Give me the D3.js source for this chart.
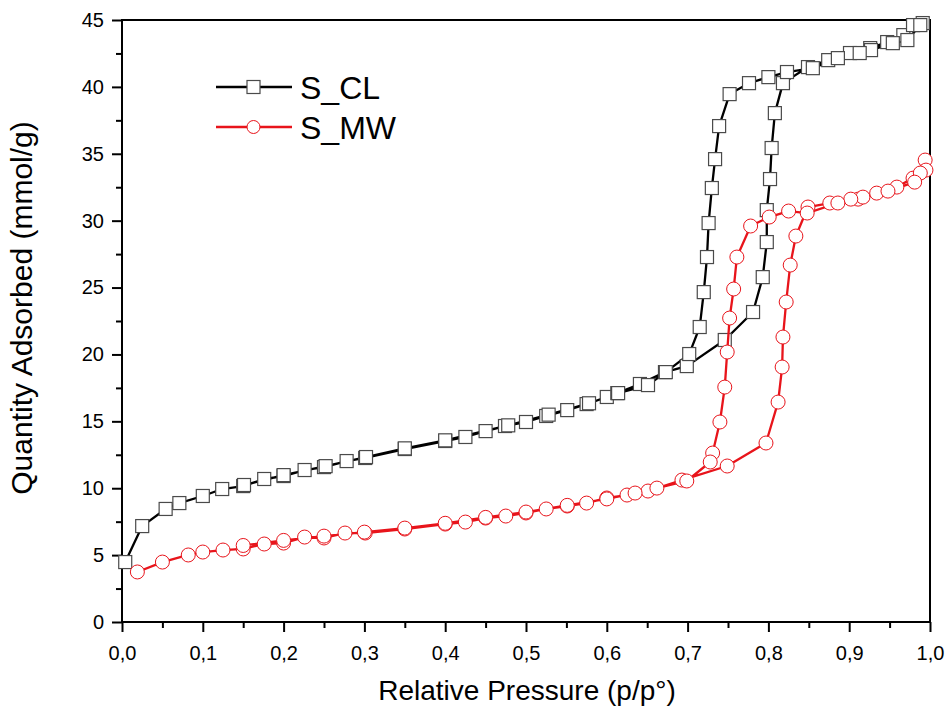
<!DOCTYPE html>
<head>
<meta charset="utf-8" />
<script src="https://d3js.org/d3.v7.min.js"></script>
<style>
    body {
        margin: 0;
        background: #fff;
        font-family: "Liberation Sans", Arial, sans-serif;
    }
</style>
</head>

<body>
    <div id="chart"></div>

    <script>
        // S_CL isotherm, adsorption then desorption
        var clAdsX = [0.004, 0.025, 0.054, 0.071, 0.100, 0.124, 0.150, 0.176, 0.200, 0.226, 0.250, 0.278, 0.301, 0.350, 0.400, 0.425, 0.450, 0.474, 0.500, 0.525, 0.551, 0.575, 0.600, 0.613, 0.641, 0.672, 0.699, 0.746, 0.781, 0.793, 0.798, 0.798, 0.802, 0.804, 0.808, 0.818, 0.849, 0.874, 0.901, 0.926, 0.947, 0.967, 0.979, 0.991];
        var clAdsY = [4.48, 7.17, 8.45, 8.89, 9.42, 9.94, 10.16, 10.69, 10.91, 11.36, 11.58, 12.03, 12.26, 12.93, 13.53, 13.83, 14.27, 14.65, 14.95, 15.40, 15.84, 16.29, 16.82, 17.11, 17.79, 18.68, 19.13, 21.08, 23.17, 25.78, 28.40, 30.79, 33.11, 35.43, 38.04, 40.28, 41.48, 42.00, 42.53, 42.90, 43.35, 43.87, 44.62, 44.77];
        var clDesX = [0.988, 0.972, 0.954, 0.927, 0.913, 0.886, 0.855, 0.823, 0.800, 0.776, 0.752, 0.739, 0.734, 0.730, 0.726, 0.724, 0.720, 0.715, 0.702, 0.673, 0.651, 0.614, 0.578, 0.528, 0.478, 0.400, 0.350, 0.302, 0.252, 0.200, 0.151];
        var clDesY = [44.62, 43.50, 43.27, 42.75, 42.53, 42.15, 41.40, 41.11, 40.73, 40.28, 39.46, 37.07, 34.60, 32.44, 29.82, 27.28, 24.66, 22.05, 20.03, 18.68, 17.71, 17.11, 16.35, 15.50, 14.70, 13.58, 12.98, 12.33, 11.65, 10.98, 10.24];

        // S_MW isotherm, adsorption then desorption
        var mwAdsX = [0.019, 0.050, 0.082, 0.100, 0.125, 0.150, 0.176, 0.200, 0.226, 0.250, 0.276, 0.301, 0.350, 0.400, 0.425, 0.450, 0.475, 0.500, 0.525, 0.551, 0.575, 0.600, 0.625, 0.651, 0.693, 0.749, 0.797, 0.812, 0.817, 0.818, 0.822, 0.827, 0.834, 0.849, 0.876, 0.911, 0.934, 0.959, 0.979, 0.994];
        var mwAdsY = [3.74, 4.48, 5.01, 5.23, 5.38, 5.46, 5.83, 5.90, 6.35, 6.28, 6.65, 6.65, 6.95, 7.32, 7.47, 7.77, 7.92, 8.15, 8.45, 8.67, 8.89, 9.27, 9.49, 9.79, 10.61, 11.66, 13.38, 16.44, 19.06, 21.30, 23.92, 26.68, 28.85, 31.02, 31.32, 31.61, 32.06, 32.51, 33.18, 34.53];
        var mwDesX = [0.995, 0.988, 0.981, 0.948, 0.917, 0.902, 0.886, 0.848, 0.825, 0.801, 0.778, 0.761, 0.757, 0.752, 0.749, 0.746, 0.740, 0.731, 0.728, 0.699, 0.662, 0.635, 0.600, 0.551, 0.500, 0.450, 0.400, 0.350, 0.300, 0.250, 0.200, 0.150];
        var mwDesY = [33.78, 33.56, 32.88, 32.21, 31.76, 31.61, 31.32, 30.57, 30.72, 30.27, 29.60, 27.28, 24.89, 22.72, 20.18, 17.56, 14.95, 12.63, 11.96, 10.54, 10.01, 9.64, 9.20, 8.72, 8.22, 7.82, 7.38, 7.02, 6.72, 6.42, 6.10, 5.72];

        var seriesNames = ["S_CL", "S_MW"];
        var seriesColors = ["#000000", "#e8141b"];
        var markerStroke = ["#4a4a4a", "#e8141b"];

        var xTicks = d3.range(0, 1.0001, 0.1);
        var xMinor = d3.range(0.05, 1, 0.1);
        var yTicks = d3.range(0, 46, 5);
        var yMinor = d3.range(2.5, 45, 5);

        function pairs(xs, ys) {
            return xs.map(function (v, i) { return { x: v, y: ys[i] }; });
        }
        var series = [
            pairs(clAdsX, clAdsY).concat(pairs(clDesX, clDesY)),
            pairs(mwAdsX, mwAdsY).concat(pairs(mwDesX, mwDesY))
        ];

        var width = 949, height = 713;
        var margin = { top: 20, right: 19, bottom: 91, left: 122 };
        var w = width - margin.left - margin.right,
            h = height - margin.top - margin.bottom;

        var svg = d3.select("#chart")
            .append("svg")
            .attr("width", width)
            .attr("height", height);

        var g = svg.append("g")
            .attr("transform", "translate(" + margin.left + "," + margin.top + ")");

        var x = d3.scaleLinear().domain([0, 1]).range([0, w]);
        var y = d3.scaleLinear().domain([0, 45]).range([h, 0]);

        var comma = function (d) { return d3.format(".1f")(d).replace(".", ","); };

        // axes (major + minor, ticks pointing out)
        g.append("g")
            .attr("transform", "translate(0," + h + ")")
            .call(d3.axisBottom(x).tickValues(xTicks).tickSize(10).tickPadding(14).tickFormat(comma));
        g.append("g")
            .attr("transform", "translate(0," + h + ")")
            .call(d3.axisBottom(x).tickValues(xMinor).tickSize(6).tickFormat(""));
        g.append("g")
            .call(d3.axisLeft(y).tickValues(yTicks).tickSize(10).tickPadding(8).tickFormat(d3.format("d")));
        g.append("g")
            .call(d3.axisLeft(y).tickValues(yMinor).tickSize(6).tickFormat(""));

        g.selectAll(".domain").remove();
        g.selectAll(".tick line").attr("stroke", "#000").attr("stroke-width", 2);
        g.selectAll(".tick text")
            .attr("fill", "#000")
            .style("font-size", "20px")
            .style("font-family", "'Liberation Sans', Arial, sans-serif");

        // frame
        g.append("rect")
            .attr("x", 0).attr("y", 0)
            .attr("width", w).attr("height", h)
            .attr("fill", "none")
            .attr("stroke", "#000")
            .attr("stroke-width", 2);

        var line = d3.line()
            .x(function (d) { return x(d.x); })
            .y(function (d) { return y(d.y); });

        series.forEach(function (data, i) {
            var sg = g.append("g");
            sg.append("path")
                .datum(data)
                .attr("d", line)
                .attr("fill", "none")
                .attr("stroke", seriesColors[i])
                .attr("stroke-width", 2.3)
                .attr("stroke-linejoin", "round");
            if (i === 0) {
                sg.selectAll("rect")
                    .data(data)
                    .join("rect")
                    .attr("x", function (d) { return x(d.x) - 6.5; })
                    .attr("y", function (d) { return y(d.y) - 6.5; })
                    .attr("width", 13)
                    .attr("height", 13)
                    .attr("fill", "#fff")
                    .attr("stroke", markerStroke[i])
                    .attr("stroke-width", 1.2);
            } else {
                sg.selectAll("circle")
                    .data(data)
                    .join("circle")
                    .attr("cx", function (d) { return x(d.x); })
                    .attr("cy", function (d) { return y(d.y); })
                    .attr("r", 7)
                    .attr("fill", "#fff")
                    .attr("stroke", markerStroke[i])
                    .attr("stroke-width", 1);
            }
        });

        // legend
        var legend = svg.append("g").attr("transform", "translate(216,87)");
        seriesNames.forEach(function (name, i) {
            var lg = legend.append("g").attr("transform", "translate(0," + (i * 40) + ")");
            lg.append("line")
                .attr("x1", 0).attr("x2", 76)
                .attr("stroke", seriesColors[i])
                .attr("stroke-width", 2.3);
            if (i === 0) {
                lg.append("rect")
                    .attr("x", 31).attr("y", -6.5)
                    .attr("width", 13).attr("height", 13)
                    .attr("fill", "#fff")
                    .attr("stroke", markerStroke[i])
                    .attr("stroke-width", 1.2);
            } else {
                lg.append("circle")
                    .attr("cx", 37.5).attr("r", 6.5)
                    .attr("fill", "#fff")
                    .attr("stroke", markerStroke[i]);
            }
            lg.append("text")
                .attr("x", 84)
                .attr("y", 12)
                .style("font-size", "32px")
                .text(name);
        });

        // axis titles
        svg.append("text")
            .attr("x", 527)
            .attr("y", 700)
            .attr("text-anchor", "middle")
            .style("font-size", "28px")
            .text("Relative Pressure (p/p°)");

        svg.append("text")
            .attr("transform", "translate(32,308) rotate(-90)")
            .attr("text-anchor", "middle")
            .style("font-size", "30px")
            .text("Quantity Adsorbed (mmol/g)");
    </script>
</body>
